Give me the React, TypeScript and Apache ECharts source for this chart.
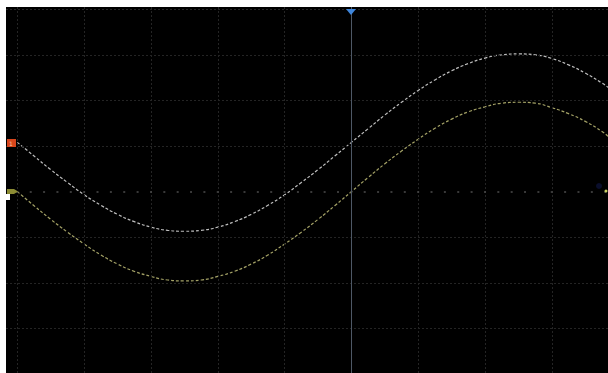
import React, { useEffect, useRef } from "react";
import * as echarts from "echarts";

// time axis in divisions (0 = trigger point)
const xDiv = [
  -5.0, -4.75, -4.5, -4.25, -4.0, -3.75, -3.5, -3.25, -3.0, -2.75, -2.5, -2.25,
  -2.0, -1.75, -1.5, -1.25, -1.0, -0.75, -0.5, -0.25, 0, 0.25, 0.5, 0.75, 1.0,
  1.25, 1.5, 1.75, 2.0, 2.25, 2.5, 2.75, 3.0, 3.25, 3.5, 3.75, 3.85,
];
// channel traces, in vertical divisions
const traceWhite = [
  1.08, 0.78, 0.48, 0.2, -0.07, -0.3, -0.5, -0.66, -0.78, -0.85, -0.87, -0.85,
  -0.78, -0.66, -0.5, -0.3, -0.07, 0.2, 0.48, 0.78, 1.08, 1.38, 1.68, 1.96, 2.22,
  2.45, 2.65, 2.81, 2.93, 3.0, 3.02, 3.0, 2.92, 2.78, 2.6, 2.38, 2.28,
];
const traceYellow = [
  0, -0.31, -0.61, -0.89, -1.15, -1.39, -1.59, -1.75, -1.86, -1.94, -1.96, -1.94,
  -1.86, -1.75, -1.59, -1.39, -1.15, -0.89, -0.61, -0.31, 0, 0.31, 0.61, 0.89,
  1.15, 1.39, 1.59, 1.75, 1.86, 1.94, 1.96, 1.94, 1.84, 1.71, 1.54, 1.32, 1.2,
];
// graticule
const gridXLines = [-5, -4, -3, -2, -1, 1, 2, 3];
const gridYLines = [-4, -3, -2, -1, 1, 2, 3, 4];

const X_MIN = -5.17;
const X_MAX = 3.84;
const Y_MIN = -3.98;
const Y_MAX = 4.05;

export default function App() {
  const ref = useRef<HTMLDivElement>(null);
  useEffect(() => {
    if (!ref.current) return;
    const chart = echarts.init(ref.current, null, { renderer: "svg" });
    const pair = (ys: number[]) => xDiv.map((x, i) => [x, ys[i]]);
    chart.setOption({
      animation: false,
      backgroundColor: "#ffffff",
      grid: {
        left: 6,
        right: 0,
        top: 7,
        bottom: 0,
        show: true,
        backgroundColor: "#000000",
        borderWidth: 0,
      },
      xAxis: {
        type: "value",
        min: X_MIN,
        max: X_MAX,
        show: false,
        splitLine: { show: false },
      },
      yAxis: {
        type: "value",
        min: Y_MIN,
        max: Y_MAX,
        show: false,
        splitLine: { show: false },
      },
      series: [
        {
          name: "graticule",
          type: "line",
          data: [],
          silent: true,
          z: 1,
          markLine: {
            silent: true,
            symbol: "none",
            label: { show: false },
            animation: false,
            data: [
              ...gridXLines.map((v) => ({
                xAxis: v,
                lineStyle: { color: "#242424", width: 1, type: [2, 2] },
              })),
              ...gridYLines.map((v) => ({
                yAxis: v,
                lineStyle: { color: "#242424", width: 1, type: [2, 2] },
              })),
              {
                yAxis: 0,
                lineStyle: {
                  color: "#4c4c4c",
                  width: 1.6,
                  type: [2, 11.36],
                  dashOffset: 3,
                },
              },
              {
                xAxis: 0,
                lineStyle: { color: "#4e5866", width: 1, type: "solid" },
              },
            ],
          },
        },
        {
          name: "CH1",
          type: "line",
          data: pair(traceWhite),
          smooth: true,
          showSymbol: false,
          silent: true,
          z: 3,
          lineStyle: { color: "#bdbdbd", width: 1.2, type: [3, 2] },
        },
        {
          name: "CH2",
          type: "line",
          data: pair(traceYellow),
          smooth: true,
          showSymbol: false,
          silent: true,
          z: 3,
          lineStyle: { color: "#a4a266", width: 1.2, type: [3, 2] },
        },
      ],
      graphic: [
        {
          type: "rect",
          shape: { x: 7, y: 139, width: 9, height: 8 },
          style: { fill: "#d8461c" },
          z: 10,
        },
        {
          type: "text",
          x: 9,
          y: 140,
          style: { text: "1", fill: "#f4c0a0", fontSize: 6, fontFamily: "DejaVu Sans" },
          z: 11,
        },
        {
          type: "polygon",
          shape: { points: [[7, 189], [14, 189], [18, 191.5], [14, 194], [7, 194]] },
          style: { fill: "#8c8c34" },
          z: 10,
        },
        {
          type: "rect",
          shape: { x: 6, y: 194, width: 4, height: 6 },
          style: { fill: "#ffffff" },
          z: 10,
        },
        {
          type: "polygon",
          shape: { points: [[346, 9], [356, 9], [351, 15]] },
          style: { fill: "#3f86dc" },
          z: 10,
        },
        {
          type: "circle",
          shape: { cx: 599, cy: 186, r: 3 },
          style: { fill: "#10184a", opacity: 0.6 },
          z: 9,
        },
        {
          type: "circle",
          shape: { cx: 606, cy: 191, r: 1.5 },
          style: { fill: "#c8d060" },
          z: 10,
        },
      ],
    });
    return () => chart.dispose();
  }, []);
  return (
    <div
      ref={ref}
      style={{ position: "fixed", left: 0, top: 0, width: 608, height: 373, background: "#ffffff" }}
    />
  );
}
